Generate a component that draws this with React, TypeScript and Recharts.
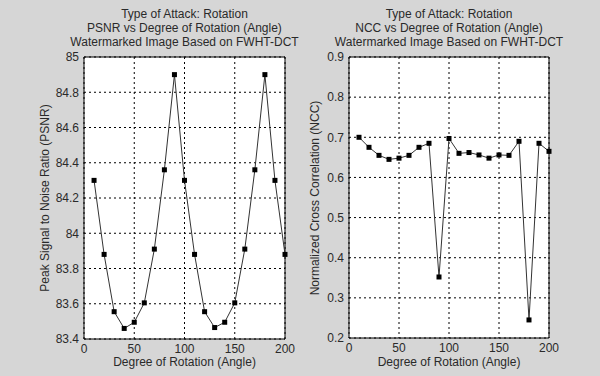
import React from "react";
import {
  LineChart,
  Line,
  XAxis,
  YAxis,
  CartesianGrid,
  ReferenceArea,
} from "recharts";

const angles = [10, 20, 30, 40, 50, 60, 70, 80, 90, 100, 110, 120, 130, 140, 150, 160, 170, 180, 190, 200];
const psnr = [
  84.3, 83.88, 83.555, 83.46, 83.495, 83.605, 83.91, 84.36, 84.9, 84.3,
  83.88, 83.555, 83.465, 83.495, 83.605, 83.91, 84.36, 84.9, 84.3, 83.88,
];
const ncc = [
  0.7, 0.675, 0.655, 0.645, 0.648, 0.655, 0.675, 0.685, 0.352, 0.697,
  0.66, 0.662, 0.656, 0.648, 0.656, 0.655, 0.69, 0.245, 0.685, 0.665,
];
const xTicks = [0, 50, 100, 150, 200];
const psnrTicks = [83.4, 83.6, 83.8, 84, 84.2, 84.4, 84.6, 84.8, 85];
const nccTicks = [0.2, 0.3, 0.4, 0.5, 0.6, 0.7, 0.8, 0.9];

const psnrTitle = [
  "Type of Attack: Rotation",
  "PSNR vs Degree of Rotation (Angle)",
  "Watermarked Image Based on FWHT-DCT",
];
const nccTitle = [
  "Type of Attack: Rotation",
  "NCC vs Degree of Rotation (Angle)",
  "Watermarked Image Based on FWHT-DCT",
];

const FONT = "'Liberation Sans', Arial, sans-serif";
const TEXT = "#2a2a2a";

const SquareDot = (props: any) => {
  const { cx, cy } = props;
  if (cx == null || cy == null) return null;
  return <rect x={cx - 2.5} y={cy - 2.5} width={5} height={5} fill="#000" />;
};

interface PanelProps {
  offsetX: number;
  values: number[];
  yTicks: number[];
  title: string[];
  yLabel: string;
  plotLeft: number;
  plotRight: number;
  plotTop: number;
  plotBottom: number;
  yLabelX: number;
}

function Panel(p: PanelProps) {
  const data = angles.map((a, i) => ({ angle: a, v: p.values[i] }));
  const yMin = p.yTicks[0];
  const yMax = p.yTicks[p.yTicks.length - 1];
  const cx = (p.plotLeft + p.plotRight) / 2;
  const cy = (p.plotTop + p.plotBottom) / 2;
  return (
    <div style={{ position: "absolute", left: p.offsetX, top: 0, width: 300, height: 376 }}>
      <LineChart
        width={300}
        height={376}
        data={data}
        margin={{ top: p.plotTop, right: 300 - p.plotRight, bottom: 376 - p.plotBottom - 20, left: 0 }}
      >
        <CartesianGrid
          fill="#fff"
          stroke="#000"
          strokeDasharray="2 3"
          horizontalValues={p.yTicks}
          verticalValues={xTicks}
        />
        <XAxis
          type="number"
          dataKey="angle"
          domain={[0, 200]}
          ticks={xTicks}
          tickLine={false}
          axisLine={false}
          tickSize={3}
          height={20}
          tick={{ fill: TEXT, fontSize: 12, fontFamily: FONT }}
        />
        <YAxis
          domain={[yMin, yMax]}
          ticks={p.yTicks}
          tickLine={false}
          axisLine={false}
          tickSize={3}
          width={p.plotLeft}
          tick={{ fill: TEXT, fontSize: 12, fontFamily: FONT }}
        />
        <ReferenceArea x1={0} x2={200} y1={yMin} y2={yMax} fill="none" fillOpacity={0} stroke="#000" strokeWidth={1} />
        <Line
          type="linear"
          dataKey="v"
          stroke="#333"
          strokeWidth={1}
          dot={<SquareDot />}
          activeDot={false}
          isAnimationActive={false}
        />
      </LineChart>
      <div
        style={{
          position: "absolute",
          left: cx - 140,
          width: 280,
          top: 7,
          textAlign: "center",
          fontFamily: FONT,
          fontSize: 12,
          lineHeight: "14px",
          color: TEXT,
        }}
      >
        {p.title.map((t) => (
          <div key={t}>{t}</div>
        ))}
      </div>
      <div
        style={{
          position: "absolute",
          left: cx - 140,
          width: 280,
          top: 355,
          textAlign: "center",
          fontFamily: FONT,
          fontSize: 12,
          lineHeight: "14px",
          color: TEXT,
        }}
      >
        Degree of Rotation (Angle)
      </div>
      <div
        style={{
          position: "absolute",
          left: p.yLabelX - 150,
          top: cy - 7,
          width: 300,
          textAlign: "center",
          fontFamily: FONT,
          fontSize: 12,
          lineHeight: "14px",
          color: TEXT,
          transform: "rotate(-90deg)",
        }}
      >
        {p.yLabel}
      </div>
    </div>
  );
}

export default function App() {
  return (
    <div
      style={{
        position: "absolute",
        left: 0,
        top: 0,
        width: 600,
        height: 376,
        background: "#d6d6d6",
        overflow: "hidden",
      }}
    >
      <Panel
        offsetX={0}
        values={psnr}
        yTicks={psnrTicks}
        title={psnrTitle}
        yLabel="Peak Signal to Noise Ratio (PSNR)"
        plotLeft={84}
        plotRight={285}
        plotTop={57}
        plotBottom={339}
        yLabelX={45}
      />
      <Panel
        offsetX={300}
        values={ncc}
        yTicks={nccTicks}
        title={nccTitle}
        yLabel="Normalized Cross Correlation (NCC)"
        plotLeft={49}
        plotRight={249}
        plotTop={57}
        plotBottom={338}
        yLabelX={15}
      />
    </div>
  );
}
